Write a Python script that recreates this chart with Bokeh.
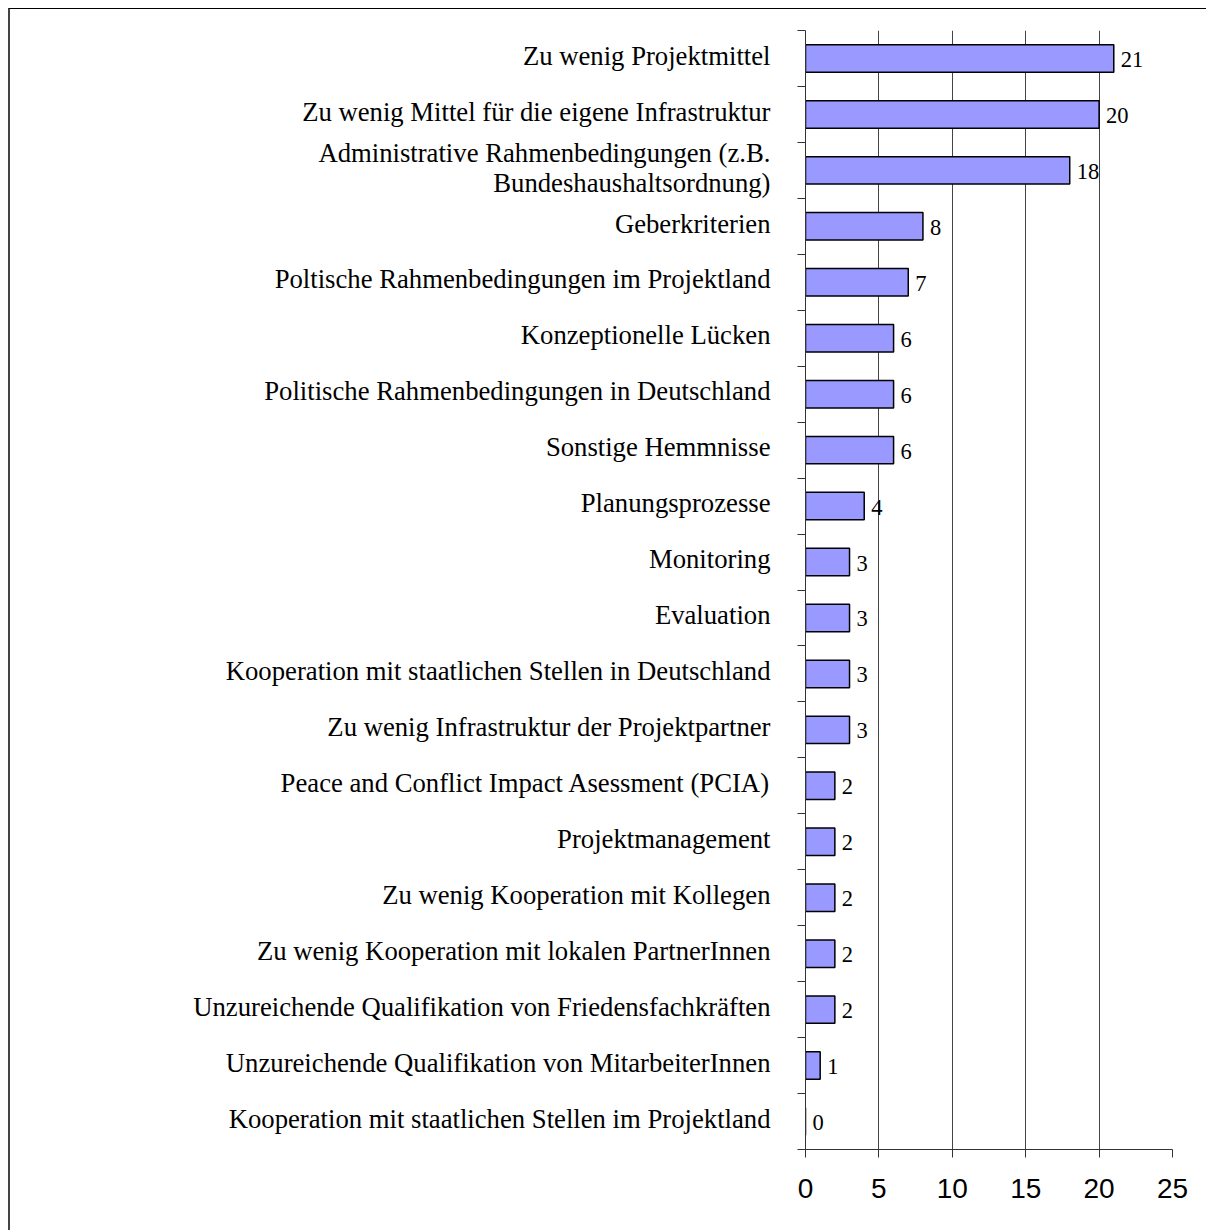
from bokeh.plotting import figure
from bokeh.models import Range1d, FixedTicker, ColumnDataSource
from bokeh.embed import file_html
from bokeh.resources import INLINE
from bokeh.core.properties import value

categories = [
    "Zu wenig Projektmittel",
    "Zu wenig Mittel für die eigene Infrastruktur",
    "Administrative Rahmenbedingungen (z.B.\nBundeshaushaltsordnung)",
    "Geberkriterien",
    "Poltische Rahmenbedingungen im Projektland",
    "Konzeptionelle Lücken",
    "Politische Rahmenbedingungen in Deutschland",
    "Sonstige Hemmnisse",
    "Planungsprozesse",
    "Monitoring",
    "Evaluation",
    "Kooperation mit staatlichen Stellen in Deutschland",
    "Zu wenig Infrastruktur der Projektpartner",
    "Peace and Conflict Impact Asessment (PCIA)",
    "Projektmanagement",
    "Zu wenig Kooperation mit Kollegen",
    "Zu wenig Kooperation mit lokalen PartnerInnen",
    "Unzureichende Qualifikation von Friedensfachkräften",
    "Unzureichende Qualifikation von MitarbeiterInnen",
    "Kooperation mit staatlichen Stellen im Projektland",
]
counts = [21, 20, 18, 8, 7, 6, 6, 6, 4, 3, 3, 3, 3, 2, 2, 2, 2, 2, 1, 0]
x_ticks = [0, 5, 10, 15, 20, 25]

n = len(categories)
centers = [n - i - 0.5 for i in range(n)]
label_pos = [c + 0.05 for c in centers]

src = ColumnDataSource(dict(y=centers, v=counts, t=[str(c) for c in counts]))

p = figure(
    output_backend="svg", toolbar_location=None,
    frame_width=367, frame_height=1119,
    min_border_left=795, min_border_right=34,
    min_border_top=21, min_border_bottom=81,
    x_range=Range1d(0, 25), y_range=Range1d(0, n),
)
p.margin = (8, 0, 0, 8)
p.styles = {"border-top": "1px solid #000", "border-left": "2px solid #444"}
p.outline_line_color = None
p.background_fill_color = "white"
p.border_fill_color = "white"

p.hbar(y="y", right="v", left=0, height=0.49, source=src,
       fill_color="#9999FF", line_color="black", line_width=1.5)
p.text(x="v", y="y", text="t", source=src, x_offset=7, y_offset=1,
       text_align="left", text_baseline="middle",
       text_font=value("Liberation Serif"), text_font_size="22.5px",
       text_color="black")

# x axis
p.xaxis.ticker = FixedTicker(ticks=x_ticks)
p.xaxis.minor_tick_line_color = None
p.xaxis.major_tick_in = 0
p.xaxis.major_tick_out = 8
p.xaxis.major_label_standoff = 21
p.xaxis.major_label_text_font = "Liberation Sans"
p.xaxis.major_label_text_font_size = "28px"
p.xaxis.major_label_text_color = "black"
p.xaxis.axis_line_color = "#333"
p.xaxis.major_tick_line_color = "#333"

# y axis
p.yaxis.ticker = FixedTicker(ticks=label_pos, minor_ticks=list(range(n + 1)))
p.yaxis.major_label_overrides = {lp: c for lp, c in zip(label_pos, categories)}
p.yaxis.major_tick_line_color = None
p.yaxis.minor_tick_in = 0
p.yaxis.minor_tick_out = 8
p.yaxis.minor_tick_line_color = "#333"
p.yaxis.axis_line_color = "#333"
p.yaxis.major_label_standoff = 27
p.yaxis.major_label_text_font = "Liberation Serif"
p.yaxis.major_label_text_font_size = "26.7px"
p.yaxis.major_label_text_line_height = 1.0
p.yaxis.major_label_text_color = "black"
p.yaxis.major_label_text_align = "right"

p.xgrid.ticker = FixedTicker(ticks=x_ticks[1:])
p.xgrid.grid_line_color = "#444"
p.xgrid.grid_line_width = 1
p.ygrid.grid_line_color = None

open("out.html", "w").write(file_html(p, INLINE))
